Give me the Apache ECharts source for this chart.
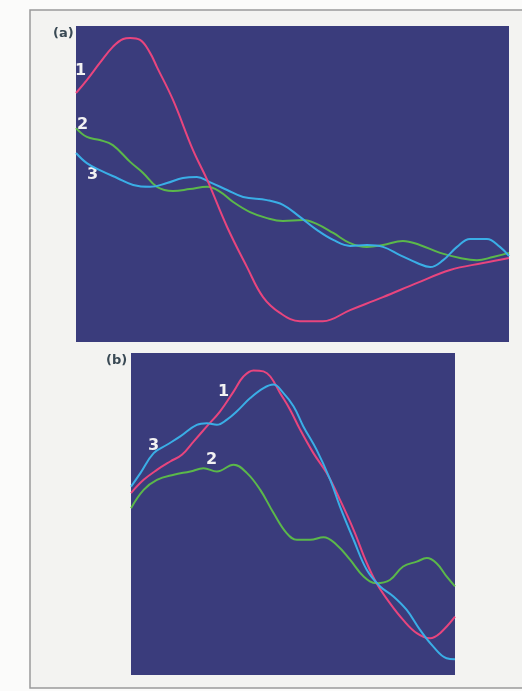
<!DOCTYPE html>
<html>
<head>
<meta charset="utf-8">
<script src="https://cdn.jsdelivr.net/npm/echarts@6/dist/echarts.min.js"></script>
<style>
html, body { margin: 0; padding: 0; background: #fbfbfa; }
#chart { width: 522px; height: 691px; }
</style>
</head>
<body>
<div id="chart"></div>
<script>
// panel (a) curves, x and y (0..100 in both axes)
const aX1 = [0, 2.5, 5.5, 8.5, 10.9, 12.5, 14.8, 17.1, 18.7, 22.4, 27.0, 30.3, 34.9, 39.5, 43.2, 47.1, 51.7, 57.0, 63.3, 70.9, 78.8, 86.4, 94.0, 100]
const aY1 = [78.8, 82.9, 88.3, 93.4, 95.9, 96.2, 95.6, 91.5, 87.0, 76.6, 60.8, 51.3, 36.4, 23.7, 14.2, 9.2, 6.6, 6.6, 10.1, 14.2, 18.7, 22.8, 25.0, 26.6]
const aX2 = [0, 2.5, 5.5, 8.5, 12.5, 15.5, 18.7, 22.4, 26.3, 30.3, 33.3, 36.3, 40.2, 44.1, 47.8, 52.4, 55.7, 59.4, 63.3, 67.2, 70.9, 75.5, 79.4, 84.1, 88.7, 92.6, 96.3, 100]
const aY2 = [67.7, 64.9, 63.9, 62.3, 57.0, 53.5, 49.1, 47.8, 48.4, 49.1, 47.5, 44.3, 41.1, 39.2, 38.3, 38.6, 37.3, 34.5, 31.3, 30.1, 30.7, 32.0, 30.7, 28.2, 26.6, 25.9, 26.9, 28.2]
const aX3 = [0, 2.5, 5.5, 9.5, 13.2, 17.1, 21.0, 24.7, 27.9, 30.9, 34.9, 38.6, 44.1, 47.8, 51.7, 55.7, 59.4, 63.3, 67.2, 70.9, 74.8, 78.8, 81.8, 84.8, 88.0, 91.0, 94.9, 97.9, 100]
const aY3 = [59.8, 56.6, 54.4, 51.9, 49.7, 49.1, 50.3, 51.9, 52.2, 50.6, 48.1, 45.9, 44.9, 43.4, 39.6, 35.4, 32.3, 30.4, 30.7, 30.1, 27.5, 25.0, 23.7, 25.9, 30.1, 32.6, 32.6, 30.1, 27.2]

// panel (b) curves
const bX1 = [0, 3.9, 8.0, 12.1, 15.7, 19.3, 23.4, 27.5, 31.7, 34.7, 37.8, 40.9, 43.0, 46.0, 49.1, 52.2, 56.3, 60.4, 64.5, 68.7, 72.8, 75.8, 79.9, 84.0, 88.2, 92.3, 95.4, 100]
const bY1 = [56.5, 60.6, 63.7, 66.3, 68.4, 72.5, 77.2, 81.9, 88.1, 92.7, 94.6, 94.3, 92.7, 87.6, 82.4, 76.2, 68.9, 62.7, 54.4, 45.1, 34.7, 28.5, 22.3, 17.1, 13.0, 11.4, 13.0, 18.1]
const bX2 = [0, 3.9, 8.0, 13.2, 18.3, 22.4, 26.5, 31.7, 35.8, 39.9, 44.0, 48.1, 51.2, 55.3, 59.4, 63.5, 67.6, 71.8, 75.8, 79.9, 84.0, 88.2, 91.3, 94.3, 97.4, 100]
const bY2 = [51.8, 57.5, 60.6, 62.2, 63.2, 64.2, 63.2, 65.3, 62.7, 57.5, 50.3, 44.0, 42.0, 42.0, 42.8, 40.4, 35.8, 30.6, 28.5, 29.5, 33.7, 35.2, 36.3, 34.7, 30.6, 27.5]
const bX3 = [0, 2.9, 7.0, 11.1, 15.2, 20.3, 23.4, 26.5, 29.6, 32.7, 36.8, 40.9, 44.0, 46.6, 50.2, 53.2, 57.3, 61.5, 64.5, 68.7, 72.8, 76.9, 81.0, 85.1, 89.2, 93.3, 97.4, 100]
const bY3 = [58.5, 62.7, 68.9, 71.5, 74.1, 77.7, 78.2, 77.7, 79.3, 81.9, 86.0, 89.1, 90.2, 88.1, 83.4, 77.2, 69.9, 60.6, 52.3, 42.0, 32.6, 27.5, 24.4, 20.2, 14.0, 8.8, 5.2, 4.9]

const pink = '#e8457e'
const green = '#5bb84a'
const blue = '#3aaee6'
const navy = '#3a3c7c'

const zip = (xs, ys) => xs.map((x, i) => [x, ys[i]])

const chart = echarts.init(document.getElementById('chart'))

const axisX = (i) => ({
  type: 'value', gridIndex: i, min: 0, max: 100,
  axisLine: { show: false }, axisTick: { show: false },
  axisLabel: { show: false }, splitLine: { show: false }
})
const axisY = (i) => ({
  type: 'value', gridIndex: i, min: 0, max: 100,
  axisLine: { show: false }, axisTick: { show: false },
  axisLabel: { show: false }, splitLine: { show: false }
})
const curve = (i, xs, ys, color) => ({
  type: 'line', xAxisIndex: i, yAxisIndex: i,
  data: zip(xs, ys), smooth: 0.4, symbol: 'none',
  lineStyle: { color: color, width: 2 }
})
const numLabel = (text, left, top) => ({
  type: 'text', left: left, top: top,
  style: { text: text, fill: '#f2f2f2', font: 'bold 16px "DejaVu Sans", sans-serif' }
})

const option = {
  animation: false,
  backgroundColor: '#fbfbfa',
  grid: [
    { left: 76, top: 26, width: 433, height: 316, show: true, backgroundColor: navy, borderWidth: 0 },
    { left: 131, top: 353, width: 324, height: 322, show: true, backgroundColor: navy, borderWidth: 0 }
  ],
  xAxis: [axisX(0), axisX(1)],
  yAxis: [axisY(0), axisY(1)],
  series: [
    curve(0, aX2, aY2, green),
    curve(0, aX3, aY3, blue),
    curve(0, aX1, aY1, pink),
    curve(1, bX2, bY2, green),
    curve(1, bX1, bY1, pink),
    curve(1, bX3, bY3, blue)
  ],
  graphic: [
    // scanned page frame
    { type: 'rect', shape: { x: 30, y: 10, width: 500, height: 678 }, style: { fill: '#f3f3f1', stroke: '#9a9a9a', lineWidth: 1.5 }, z: -10 },
    { type: 'text', left: 53, top: 27, style: { text: '(a)', fill: '#3a4a55', font: 'bold 13px "DejaVu Sans", sans-serif' } },
    { type: 'text', left: 106, top: 354, style: { text: '(b)', fill: '#3a4a55', font: 'bold 13px "DejaVu Sans", sans-serif' } },
    numLabel('1', 75, 63),
    numLabel('2', 77, 117),
    numLabel('3', 87, 167),
    numLabel('1', 218, 384),
    numLabel('3', 148, 438),
    numLabel('2', 206, 452)
  ]
}
chart.setOption(option)
</script>
</body>
</html>
